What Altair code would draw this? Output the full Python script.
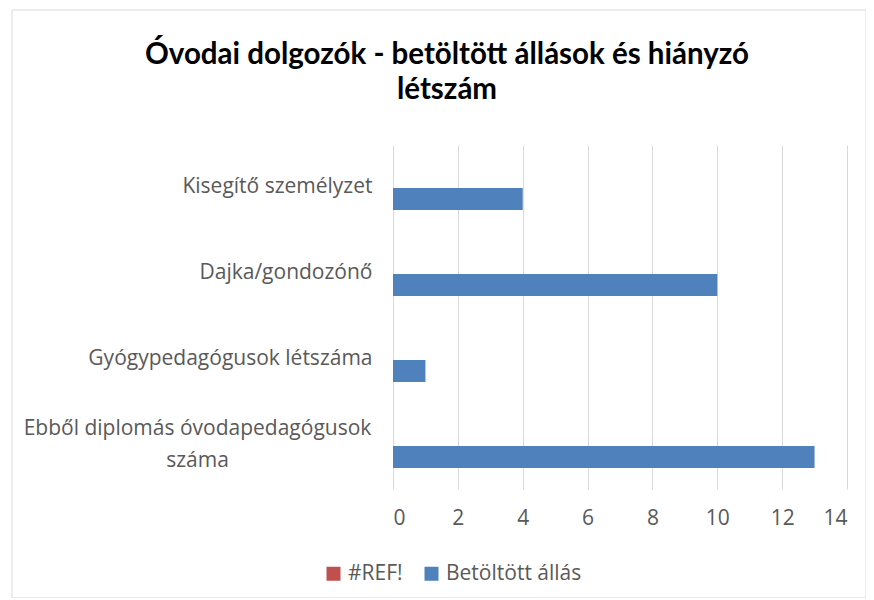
import altair as alt
import pandas as pd

categories = ["Kisegítő személyzet", "Dajka/gondozónő", "Gyógypedagógusok létszáma",
              "Ebből diplomás óvodapedagógusok|száma"]
series = ["#REF!", "Betöltött állás"]
ref_values = [0, 0, 0, 0]
filled_values = [4, 10, 1, 13]
colors = ["#C0504D", "#4F81BD"]
x_ticks = [0, 2, 4, 6, 8, 10, 12, 14]

rows = []
for c, r, f in zip(categories, ref_values, filled_values):
    rows.append({"cat": c, "series": series[0], "value": r})
    rows.append({"cat": c, "series": series[1], "value": f})
df = pd.DataFrame(rows)

label_col = "#595959"
is_wrapped = "indexof(datum.label, '|') >= 0"

bars = alt.Chart(df).mark_bar().encode(
    x=alt.X("value:Q", scale=alt.Scale(domain=[0, 14], nice=False),
            axis=alt.Axis(values=x_ticks, title=None, grid=True, gridColor="#D9D9D9",
                          domain=False, ticks=False, labelFontSize=21, labelColor=label_col,
                          labelFont="Open Sans", labelPadding=18)),
    y=alt.Y("cat:N", sort=categories,
            scale=alt.Scale(paddingInner=0.488, paddingOuter=0.244),
            axis=alt.Axis(title=None, domain=False, ticks=False, grid=False,
                          labelFontSize=21, labelColor=label_col, labelFont="Open Sans",
                          labelExpr="split(datum.label, '|')", labelLineHeight=32,
                          labelLimit=500,
                          labelOffset={"condition": {"test": is_wrapped, "value": -17}, "value": -1},
                          labelAlign={"condition": {"test": is_wrapped, "value": "center"}, "value": "right"},
                          labelPadding={"condition": {"test": is_wrapped, "value": 196}, "value": 21})),
    yOffset=alt.YOffset("series:N", sort=series, scale=alt.Scale(paddingInner=0, paddingOuter=0)),
    color=alt.Color("series:N", sort=series,
                    scale=alt.Scale(domain=series, range=colors),
                    legend=alt.Legend(title=None, orient="none", legendX=-70, legendY=418,
                                      direction="horizontal", symbolType="square", symbolSize=196,
                                      symbolStrokeWidth=0, labelFontSize=21, labelColor=label_col,
                                      labelFont="Open Sans", columnPadding=18, labelOffset=4)),
)

frame = alt.Chart(pd.DataFrame({"k": [0]})).mark_rect(
    fill=None, stroke="#D9D9D9", strokeWidth=1
).encode(x=alt.value(-381), x2=alt.value(473), y=alt.value(-135), y2=alt.value(453))

chart = alt.layer(frame, bars).properties(
    width=454, height=344,
    padding={"left": 385, "top": 137, "right": 19, "bottom": 109},
    autosize=alt.AutoSizeParams(type="none"),
    title=alt.TitleParams(["Óvodai dolgozók - betöltött állások és hiányzó", "létszám"],
                          anchor="middle", frame="group", dx=-173, offset=-96,
                          font="Lato", fontSize=29.5, fontWeight="bold", color="#000000",
                          lineHeight=35),
).configure_view(stroke=None)

chart.save("out.html", embed_options={"renderer": "svg", "actions": False})
